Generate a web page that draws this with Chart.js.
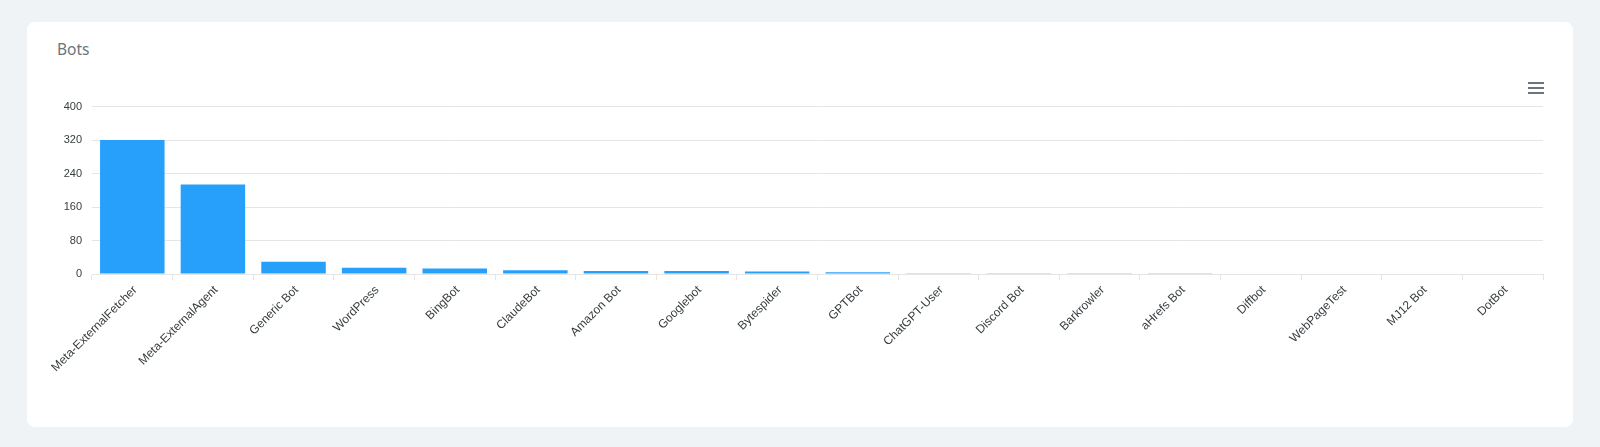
<!DOCTYPE html>
<html>
<head>
<meta charset="utf-8">
<title>Bots</title>
<script src="https://cdn.jsdelivr.net/npm/chart.js@4.4.1/dist/chart.umd.min.js"></script>
<style>
  html, body { margin: 0; padding: 0; }
  body { width: 1600px; height: 447px; background: #eff3f6; position: relative; overflow: hidden; }
  .card { position: absolute; left: 27px; top: 22px; width: 1546px; height: 405px; background: #fff; border-radius: 8px; }
  .card-title { position: absolute; left: 30px; top: 16px; font-family: "Noto Sans", sans-serif; font-size: 15.5px; color: #6c757d; }
  .menu { position: absolute; left: 1501px; top: 60px; width: 16px; }
  .menu span { display: block; height: 2px; background: #6e7479; margin-bottom: 3px; }
  .chart-box { position: absolute; left: 13px; top: 68px; width: 1510px; height: 330px; }
</style>
</head>
<body>
<div class="card">
  <div class="card-title">Bots</div>
  <div class="menu"><span></span><span></span><span></span></div>
  <div class="chart-box"><canvas id="bots-chart"></canvas></div>
</div>
<script>
  const botNames = ['Meta-ExternalFetcher', 'Meta-ExternalAgent', 'Generic Bot', 'WordPress', 'BingBot', 'ClaudeBot',
    'Amazon Bot', 'Googlebot', 'Bytespider', 'GPTBot', 'ChatGPT-User', 'Discord Bot', 'Barkrowler', 'aHrefs Bot',
    'Diffbot', 'WebPageTest', 'MJ12 Bot', 'DotBot'];
  const botHits = [320, 214, 29, 15, 13, 9, 7, 7, 6, 4, 2, 2, 2, 2, 1, 1, 1, 1];
  const yTicks = [0, 80, 160, 240, 320, 400];

  const barBlue = '#27a0fc';
  const gridGray = '#e5e5e5';
  const labelColor = '#373d3f';

  const box = document.getElementById('bots-chart');
  new Chart(box.getContext('2d'), {
    type: 'bar',
    data: {
      labels: botNames,
      datasets: [{
        label: 'Bots',
        data: botHits,
        backgroundColor: barBlue,
        borderWidth: 0,
        categoryPercentage: 1,
        barPercentage: 0.8
      }]
    },
    options: {
      responsive: true,
      maintainAspectRatio: false,
      animation: false,
      layout: { padding: { top: 13, right: 7, bottom: 0, left: 0 } },
      plugins: {
        legend: { display: false },
        tooltip: { enabled: false }
      },
      scales: {
        x: {
          offset: true,
          grid: { offset: true, drawOnChartArea: false, drawTicks: true, tickLength: 6, color: gridGray },
          border: { color: gridGray },
          ticks: {
            autoSkip: false,
            minRotation: 45,
            maxRotation: 45,
            padding: 3,
            labelOffset: 3,
            color: labelColor,
            font: { family: 'Liberation Sans', size: 12 }
          },
          afterFit: function (scale) { scale.height = 146; }
        },
        y: {
          min: 0,
          max: 400,
          afterBuildTicks: function (scale) { scale.ticks = yTicks.map(v => ({ value: v })); },
          grid: { color: gridGray, drawTicks: false },
          border: { display: false },
          ticks: {
            padding: 10,
            color: labelColor,
            font: { family: 'Liberation Sans', size: 11 }
          },
          afterFit: function (scale) { scale.width = 52; }
        }
      }
    }
  });
</script>
</body>
</html>
